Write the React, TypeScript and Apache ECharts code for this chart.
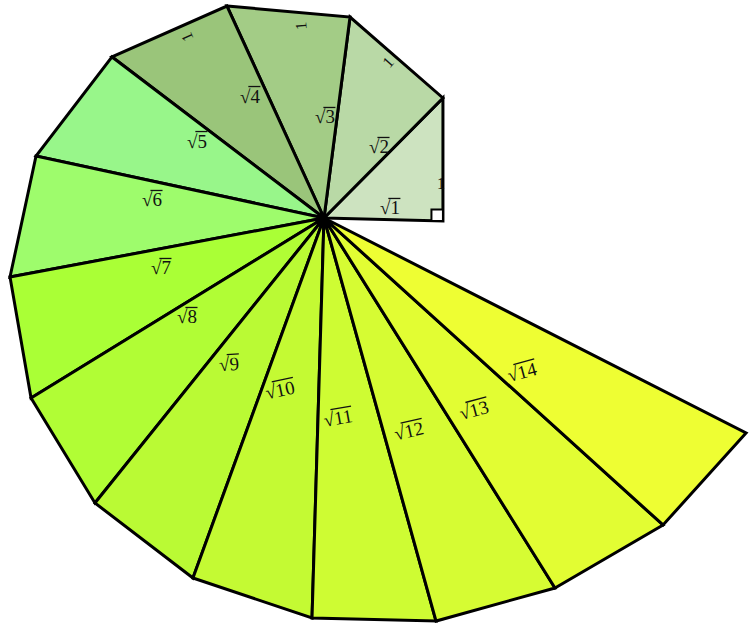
import React, { useEffect, useRef } from "react";
import * as echarts from "echarts";

// Spiral vertices (units: leg length = 1), centre at origin
const vertexX = [0.983, 0.983, 0.215, -0.802, -1.752, -2.38, -2.595, -2.421, -1.893, -1.083, -0.099, 0.926, 1.909, 2.802, 3.488];
const vertexY = [-0.025, 0.992, 1.661, 1.752, 1.331, 0.512, -0.488, -1.488, -2.355, -2.975, -3.306, -3.331, -3.058, -2.537, -1.777];

const triangleColors = [
  "#cde3c0", "#b9d9a6", "#a3cc86", "#9ac57a", "#98f68a", "#9efc6c", "#aaff36",
  "#b1fd35", "#bafa34", "#c4fa33", "#cefc33", "#d6fc33", "#e2fd33", "#eefe33",
];

// hypotenuse labels
const rootLabels = ["1", "2", "3", "4", "5", "6", "7", "8", "9", "10", "11", "12", "13", "14"];
const rootLabelX = [0.545, 0.455, 0.008, -0.612, -1.05, -1.421, -1.347, -1.132, -0.785, -0.364, 0.116, 0.702, 1.24, 1.636];
const rootLabelY = [0.083, 0.587, 0.835, 1.008, 0.636, 0.149, -0.413, -0.818, -1.207, -1.421, -1.653, -1.76, -1.587, -1.273];
const rootLabelRot = [0, 0, 0, 0, 0, 0, 0, 0, 4, 12, 10, 13, 15, 15];

// unit-leg labels
const legLabels = ["1", "1", "1", "1"];
const legLabelX = [0.967, 0.529, -0.19, -1.132];
const legLabelY = [0.289, 1.289, 1.587, 1.496];
const legLabelRot = [0, 49, 95, 114];

// right-angle marker size (units)
const markerSize = 0.095;

const X_MIN = -324 / 121;
const X_MAX = (754 - 324) / 121;
const Y_MIN = (218 - 624) / 121;
const Y_MAX = 218 / 121;

const FONT_FAMILY = "Liberation Serif";
const FONT_SIZE = 19;

let measureCtx: CanvasRenderingContext2D | null = null;
function measure(t: string) {
  if (!measureCtx) {
    measureCtx = document.createElement("canvas").getContext("2d");
  }
  if (!measureCtx) return t.length * FONT_SIZE * 0.5;
  measureCtx.font = `${FONT_SIZE}px "${FONT_FAMILY}"`;
  return measureCtx.measureText(t).width;
}

export default function App() {
  const ref = useRef<HTMLDivElement>(null);
  useEffect(() => {
    if (!ref.current) return;
    const chart = echarts.init(ref.current, undefined, { renderer: "svg" });
    const triData = triangleColors.map((_, i) => [i]);
    const option: any = {
      animation: false,
      grid: { left: 0, right: 0, top: 0, bottom: 0 },
      xAxis: { type: "value", min: X_MIN, max: X_MAX, show: false },
      yAxis: { type: "value", min: Y_MIN, max: Y_MAX, show: false },
      series: [
        {
          type: "custom",
          coordinateSystem: "cartesian2d",
          data: triData,
          encode: { x: 0 },
          clip: false,
          renderItem: (params: any, api: any) => {
            const i = params.dataIndex;
            const c = api.coord([0, 0]);
            const a = api.coord([vertexX[i], vertexY[i]]);
            const b = api.coord([vertexX[i + 1], vertexY[i + 1]]);
            return {
              type: "polygon",
              shape: { points: [c, a, b] },
              style: { fill: triangleColors[i], stroke: "#000", lineWidth: 3, lineJoin: "miter" },
            };
          },
        },
        {
          type: "custom",
          coordinateSystem: "cartesian2d",
          data: [[vertexX[0], vertexY[0]]],
          clip: false,
          renderItem: (params: any, api: any) => {
            const px = vertexX[0];
            const py = vertexY[0];
            const pts = [
              api.coord([px, py]),
              api.coord([px - markerSize, py]),
              api.coord([px - markerSize, py + markerSize]),
              api.coord([px, py + markerSize]),
            ];
            return {
              type: "polygon",
              shape: { points: pts },
              style: { fill: "#fff", stroke: "#000", lineWidth: 2 },
            };
          },
        },
        {
          type: "custom",
          coordinateSystem: "cartesian2d",
          data: rootLabels.map((_, i) => [rootLabelX[i], rootLabelY[i]]),
          clip: false,
          renderItem: (params: any, api: any) => {
            const i = params.dataIndex;
            const p = api.coord([rootLabelX[i], rootLabelY[i]]);
            const full = "\u221A" + rootLabels[i];
            const wAll = measure(full);
            const wRoot = measure("\u221A");
            const left = -wAll / 2;
            const barY = -FONT_SIZE * 0.5;
            return {
              type: "group",
              x: p[0],
              y: p[1],
              rotation: (rootLabelRot[i] * Math.PI) / 180,
              children: [
                {
                  type: "text",
                  style: {
                    text: full,
                    fill: "#111",
                    fontSize: FONT_SIZE,
                    fontFamily: FONT_FAMILY,
                    align: "center",
                    verticalAlign: "middle",
                  },
                },
                {
                  type: "line",
                  shape: { x1: left + wRoot * 0.8, y1: barY, x2: wAll / 2 + 0.5, y2: barY },
                  style: { stroke: "#111", lineWidth: 1.3 },
                },
              ],
            };
          },
        },
        {
          type: "custom",
          coordinateSystem: "cartesian2d",
          data: legLabels.map((_, i) => [legLabelX[i], legLabelY[i]]),
          clip: false,
          renderItem: (params: any, api: any) => {
            const i = params.dataIndex;
            const p = api.coord([legLabelX[i], legLabelY[i]]);
            return {
              type: "text",
              x: p[0],
              y: p[1],
              rotation: (legLabelRot[i] * Math.PI) / 180,
              style: {
                text: legLabels[i],
                fill: "#111",
                fontSize: 16,
                fontFamily: FONT_FAMILY,
                align: "center",
                verticalAlign: "middle",
              },
            };
          },
        },
      ],
    };
    chart.setOption(option);
    return () => chart.dispose();
  }, []);
  return (
    <div
      ref={ref}
      style={{ position: "fixed", left: 0, top: 0, width: 754, height: 624, background: "#fff" }}
    />
  );
}
